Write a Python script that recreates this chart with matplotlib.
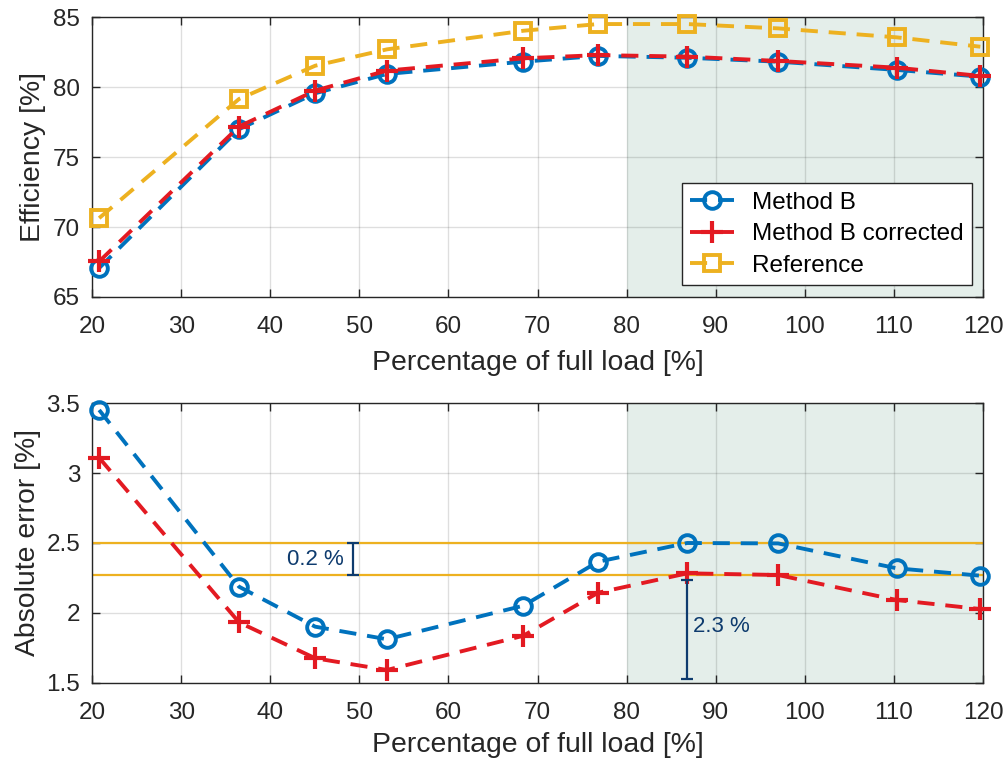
import matplotlib
matplotlib.use("Agg")
import matplotlib.pyplot as plt

plt.rcParams['font.family'] = ['Liberation Sans', 'DejaVu Sans']

# Load points (% of full load)
load = [20.8, 36.5, 45.05, 53.1, 68.4, 76.8, 86.8, 97.0, 110.3, 119.7]

# Efficiency [%]
eff_method_b = [67.07, 77.0, 79.57, 80.95, 81.83, 82.24, 82.11, 81.83, 81.24, 80.76]
eff_method_b_corr = [67.54, 77.19, 79.76, 81.19, 82.07, 82.3, 82.19, 81.88, 81.4, 80.81]
eff_reference = [70.64, 79.16, 81.54, 82.71, 84.04, 84.52, 84.52, 84.21, 83.57, 82.9]

# Absolute error [%]
err_method_b = [3.452, 2.187, 1.901, 1.811, 2.051, 2.366, 2.5, 2.497, 2.319, 2.266]
err_method_b_corr = [3.11, 1.932, 1.675, 1.591, 1.836, 2.144, 2.283, 2.271, 2.092, 2.027]

# Reference levels and annotations in the error plot
level_high = 2.5
level_low = 2.27
gap_label = "0.2 %"
gap_x = 49.3
span_label = "2.3 %"
span_x = 86.8
span_bottom = 1.53
span_top = 2.235

x_ticks = [20, 30, 40, 50, 60, 70, 80, 90, 100, 110, 120]
eff_ticks = [65, 70, 75, 80, 85]
err_ticks = [1.5, 2, 2.5, 3, 3.5]
err_tick_labels = ["1.5", "2", "2.5", "3", "3.5"]

BLUE = "#0072BD"
RED = "#E31A22"
YELLOW = "#EDB120"
NAVY = "#0E3B6E"
SHADE = "#E4EEEA"
AXCOL = "#262626"

TICK_FS = 17.5
LABEL_FS = 20.4

fig = plt.figure(figsize=(10.08, 7.67), dpi=100)
ax1 = fig.add_axes([0.0913, 0.6128, 0.8839, 0.3646])
ax2 = fig.add_axes([0.0913, 0.1099, 0.8839, 0.3643])

lw = 2.8
dash = (0, (4.4, 2.8))


def style_axes(ax, xlabelpad):
    ax.set_xlim(20, 120)
    ax.set_xticks(x_ticks)
    ax.axvspan(80, 120, color=SHADE, zorder=0.1, lw=0)
    ax.grid(True, color=AXCOL, alpha=0.15, lw=1.0)
    ax.set_axisbelow(True)
    ax.tick_params(direction="in", top=True, right=True, length=6,
                   width=1.0, colors=AXCOL, labelsize=TICK_FS,
                   labelcolor="#262626")
    ax.tick_params(axis="x", pad=14)
    ax.tick_params(axis="y", pad=8.5)
    for s in ax.spines.values():
        s.set_color(AXCOL)
        s.set_linewidth(1.0)
    ax.set_xlabel("Percentage of full load [%]", fontsize=LABEL_FS,
                  color="#262626", labelpad=xlabelpad)


style_axes(ax1, 8.5)
ax1.set_ylim(65, 85)
ax1.set_yticks(eff_ticks)
ax1.set_ylabel("Efficiency [%]", fontsize=LABEL_FS, color="#262626", labelpad=5)

ax1.plot(load, eff_method_b, color=BLUE, ls=dash, lw=lw, marker="o", ms=12,
         mfc="none", mew=2.8, clip_on=False, zorder=3, label="Method B")
ax1.plot(load, eff_method_b_corr, color=RED, ls=dash, lw=lw, marker="+", ms=16,
         mew=3.0, clip_on=False, zorder=4, label="Method B corrected")
ax1.plot(load, eff_reference, color=YELLOW, ls=dash, lw=lw, marker="s", ms=11,
         mfc="none", mew=2.8, clip_on=False, zorder=3, label="Reference")

leg = ax1.legend(loc="upper right", bbox_to_anchor=(0.9877, 0.4076),
                 fontsize=17.5, frameon=True, fancybox=False, framealpha=1,
                 edgecolor=AXCOL, handlelength=1.8, handletextpad=0.74,
                 labelspacing=0.4, borderpad=0.35, borderaxespad=0)
leg.get_frame().set_linewidth(1.0)

style_axes(ax2, 6)
ax2.set_ylim(1.5, 3.5)
ax2.set_yticks(err_ticks)
ax2.set_yticklabels(err_tick_labels)
ax2.set_ylabel("Absolute error [%]", fontsize=LABEL_FS, color="#262626",
               labelpad=4)

ax2.axhline(level_high, color=YELLOW, lw=1.6, zorder=2)
ax2.axhline(level_low, color=YELLOW, lw=1.6, zorder=2)

ax2.plot(load, err_method_b, color=BLUE, ls=dash, lw=lw, marker="o", ms=12,
         mfc="none", mew=2.8, clip_on=False, zorder=3)
ax2.plot(load, err_method_b_corr, color=RED, ls=dash, lw=lw, marker="+", ms=16,
         mew=3.0, clip_on=False, zorder=4)

half_gap = (level_high - level_low) / 2
ax2.errorbar([gap_x], [level_low + half_gap], yerr=[[half_gap], [half_gap]],
             fmt="none", ecolor=NAVY, elinewidth=1.6, capsize=4.4, capthick=1.6,
             zorder=5)
ax2.text(gap_x - 1.0, level_low + half_gap, gap_label, color=NAVY,
         fontsize=16, ha="right", va="center")

half_span = (span_top - span_bottom) / 2
ax2.errorbar([span_x], [span_bottom + half_span], yerr=[[half_span], [half_span]],
             fmt="none", ecolor=NAVY, elinewidth=1.6, capsize=4.6, capthick=1.6,
             zorder=5)
ax2.text(span_x + 0.7, 1.90, span_label, color=NAVY, fontsize=16,
         ha="left", va="center")

fig.savefig("out.png", dpi=100)
